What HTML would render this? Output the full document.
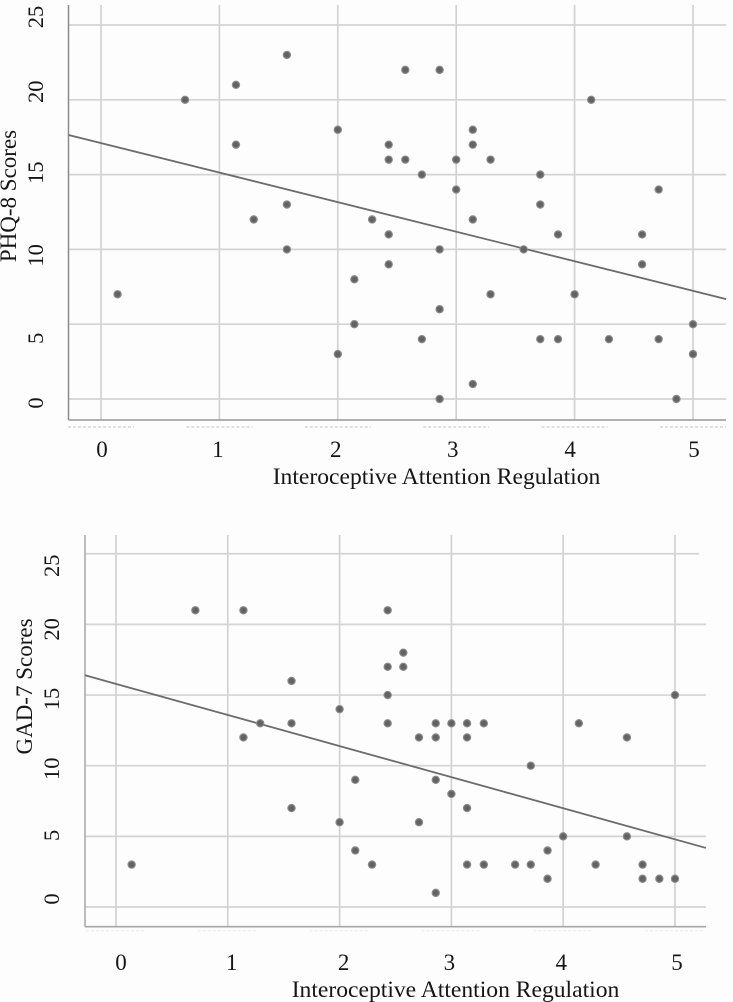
<!DOCTYPE html>
<html lang="en">
<head>
<meta charset="utf-8">
<title>Interoceptive Attention Regulation scatter plots</title>
<style>
html,body{margin:0;padding:0;background:#fdfdfd;}
body{width:733px;height:1002px;overflow:hidden;}
svg{display:block;}
text{font-family:"Liberation Serif",serif;fill:#151515;}
</style>
</head>
<body>
<svg id="figure" xmlns="http://www.w3.org/2000/svg" width="733" height="1002" viewBox="0 0 733 1002">
<defs><filter id="soft" x="-2%" y="-2%" width="104%" height="104%"><feGaussianBlur stdDeviation="0.35"/></filter></defs>
<rect x="0" y="0" width="733" height="1002" fill="#fdfdfd"/>
<g id="top-chart" filter="url(#soft)"></g>
<g id="bottom-chart" filter="url(#soft)"></g>
</svg>
<script>
const xTickValues = [0, 1, 2, 3, 4, 5];
const yTickValues = [0, 5, 10, 15, 20, 25];

const phqX = [0.14,0.71,1.14,1.14,1.29,1.57,1.57,1.57,2,2,2.14,2.14,2.29,2.43,2.43,2.43,2.43,2.57,2.57,2.71,2.71,2.86,2.86,2.86,2.86,3,3,3.14,3.14,3.14,3.14,3.29,3.29,3.57,3.71,3.71,3.71,3.86,3.86,4,4.14,4.29,4.57,4.57,4.71,4.71,4.86,5,5];
const phqY = [7,20,21,17,12,23,13,10,18,3,8,5,12,17,16,11,9,22,16,15,4,22,10,6,0,16,14,18,17,12,1,16,7,10,15,13,4,11,4,7,20,4,11,9,14,4,0,5,3];
const phqFitX = [-0.274, 5.28];
const phqFitY = [17.65, 6.68];

const gadX = [0.14,0.71,1.14,1.14,1.29,1.57,1.57,1.57,2,2,2.14,2.14,2.29,2.43,2.43,2.43,2.43,2.57,2.57,2.71,2.71,2.86,2.86,2.86,2.86,3,3,3.14,3.14,3.14,3.14,3.29,3.29,3.57,3.71,3.71,3.86,3.86,4,4.14,4.29,4.57,4.57,4.71,4.71,4.86,5,5];
const gadY = [3,21,21,12,13,16,13,7,14,6,9,4,3,21,17,15,13,18,17,12,6,13,12,9,1,13,8,13,12,7,3,13,3,3,10,3,4,2,5,13,3,12,5,3,2,2,15,2];
const gadFitX = [-0.277, 5.277];
const gadFitY = [16.4, 4.18];

const NS = 'http://www.w3.org/2000/svg';

function shape(parent, tag, props) {
  const el = document.createElementNS(NS, tag);
  for (const k in props) el.setAttribute(k, props[k]);
  parent.appendChild(el);
  return el;
}

function drawChart(root, c) {
  const sx = v => c.x0 + v * c.xUnit;
  const sy = v => c.y0 - v * c.yUnit;

  // vertical gridlines
  xTickValues.forEach(v => {
    const el = shape(root, 'line', {x1: sx(v), x2: sx(v), y1: c.top, y2: c.bottom, stroke: '#d2d2d2', 'stroke-width': 1.7});
    
    
  });

  // horizontal gridlines
  yTickValues.forEach(v => {
    const end = v === 25 ? c.right25 : c.right;
    const el = shape(root, 'line', {x1: c.left, x2: end, y1: sy(v), y2: sy(v), stroke: '#d4d4d4', 'stroke-width': 1.7});
    
    
  });

  // axes
  const yAxis = shape(root, 'line', {x1: c.left, x2: c.left, y1: c.top, y2: c.bottom, stroke: c.axisColor, 'stroke-width': 1.5});
  
  
  const xAxis = shape(root, 'line', {x1: c.left, x2: c.right, y1: c.bottom, y2: c.bottom, stroke: '#a6a6a6', 'stroke-width': 1.7});
  
  

  // faint dashes under the axis
  xTickValues.forEach(v => {
    const el = shape(root, 'line', {x1: sx(v) - c.dashHalf, x2: sx(v) + c.dashHalf, y1: c.bottom + c.dashGap, y2: c.bottom + c.dashGap, stroke: c.dashColor, 'stroke-width': 1, 'stroke-dasharray': '3 2'});
    
    
  });

  // tick labels
  xTickValues.forEach((v, i) => {
    const el = shape(root, 'text', {x: sx(v) + c.xLabelNudge[i], y: c.xLabelY, 'text-anchor': 'middle', 'font-size': 23});
    el.textContent = String(v);
    
    
  });
  yTickValues.forEach((v, i) => {
    const py = sy(v) + c.yLabelNudge[i];
    const el = shape(root, 'text', {x: 0, y: 0, transform: 'translate(' + c.yLabelX + ',' + py + ') rotate(-90)', 'text-anchor': 'middle', 'font-size': 22.5});
    el.textContent = String(v);
    
    
  });

  // axis titles
  const xTitle = shape(root, 'text', {x: c.xTitleX, y: c.xTitleY, 'text-anchor': 'middle', 'font-size': 23.6});
  xTitle.textContent = 'Interoceptive Attention Regulation';
  
  
  const yTitle = shape(root, 'text', {x: 0, y: 0, transform: 'translate(' + c.yTitleX + ',' + c.yTitleY + ') rotate(-90)', 'text-anchor': 'middle', 'font-size': 23});
  yTitle.textContent = c.yTitle;
  
  

  // regression line
  const fit = shape(root, 'line', {x1: sx(c.fitX[0]), y1: sy(c.fitY[0]), x2: sx(c.fitX[1]), y2: sy(c.fitY[1]), stroke: '#6c6c6c', 'stroke-width': 1.8});
  
  

  // points
  c.xs.forEach((v, i) => {
    const el = shape(root, 'circle', {cx: sx(v), cy: sy(c.ys[i]), r: 3.6, fill: '#636363', stroke: '#8a8a8a', 'stroke-width': 1.2});
    
    
  });
}

drawChart(document.getElementById('top-chart'), {
  xs: phqX, ys: phqY, fitX: phqFitX, fitY: phqFitY,
  x0: 101, xUnit: 118.4, y0: 399, yUnit: 14.96,
  left: 68.5, right: 726, right25: 726, top: 5, bottom: 420,
  axisColor: '#8a8a8a', dashColor: '#c4c4c4', dashHalf: 33, dashGap: 7,
  xLabelY: 457, xLabelNudge: [1, -1.5, -2, -3.5, -4.5, 1],
  yLabelX: 43, yLabelNudge: [4, 14, 6, -2, -8, -8],
  xTitleX: 436.5, xTitleY: 484,
  yTitle: 'PHQ-8 Scores', yTitleX: 16, yTitleY: 196
});

drawChart(document.getElementById('bottom-chart'), {
  xs: gadX, ys: gadY, fitX: gadFitX, fitY: gadFitY,
  x0: 116, xUnit: 111.8, y0: 907, yUnit: 14.13,
  left: 85, right: 706, right25: 699, top: 535, bottom: 926.7,
  axisColor: '#a6a6a6', dashColor: '#ececec', dashHalf: 30, dashGap: 4,
  xLabelY: 970, xLabelNudge: [5, 4, 4, -2, -2, 2],
  yLabelX: 59, yLabelNudge: [-8, -1, 3, 4, 5, 12],
  xTitleX: 455.5, xTitleY: 997,
  yTitle: 'GAD-7 Scores', yTitleX: 32, yTitleY: 686.5
});
</script>
</body>
</html>
